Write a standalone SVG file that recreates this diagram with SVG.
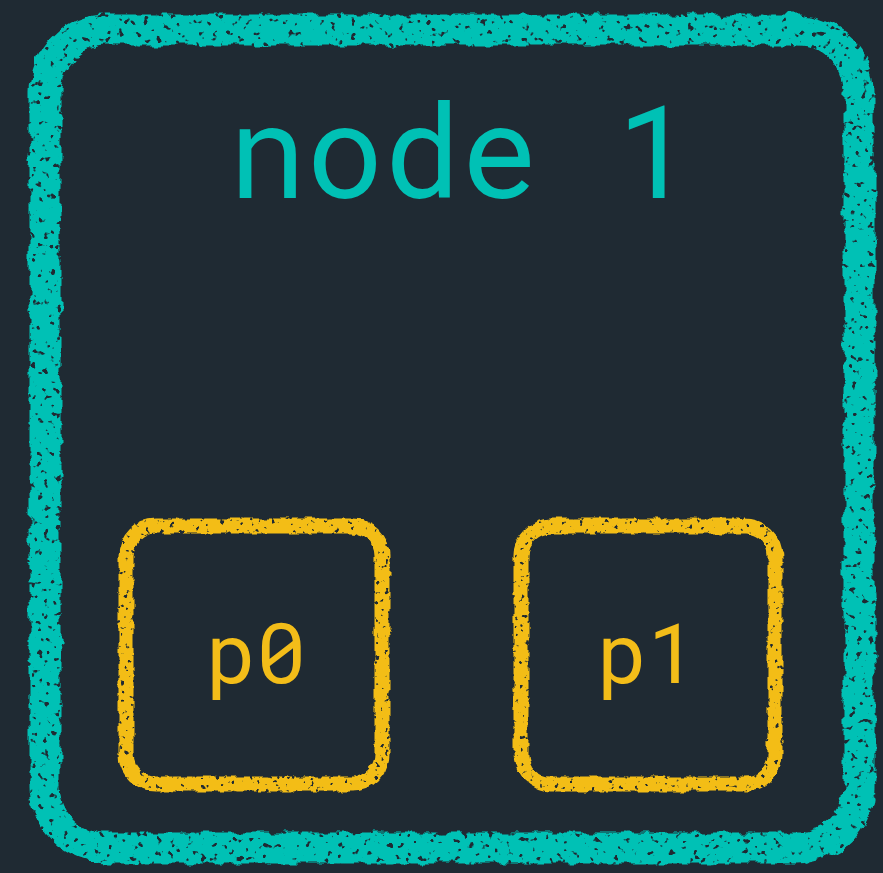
<svg xmlns="http://www.w3.org/2000/svg" width="883" height="873" viewBox="0 0 883 873">
<style>
.teal{fill:none;stroke:#00c1b5;stroke-width:31;filter:url(#rough)}
.gold{fill:none;stroke:#f3bd19;stroke-width:15;filter:url(#rough2)}
.t1{font-family:"Roboto Mono","DejaVu Sans Mono","Liberation Mono",monospace;fill:#00c1b5;font-size:129px;text-anchor:middle}
.t2{font-family:"Roboto Mono","DejaVu Sans Mono","Liberation Mono",monospace;fill:#f3bd19;font-size:84px;text-anchor:middle}
</style>
<defs>
<filter id="rough" x="-5%" y="-5%" width="110%" height="110%">
<feTurbulence type="fractalNoise" baseFrequency="0.06" numOctaves="3" seed="2" result="n"/>
<feDisplacementMap in="SourceGraphic" in2="n" scale="10" xChannelSelector="R" yChannelSelector="G" result="d"/>
<feTurbulence type="fractalNoise" baseFrequency="0.16" numOctaves="2" seed="7" result="n2"/>
<feColorMatrix in="n2" type="matrix" values="0 0 0 0 0 0 0 0 0 0 0 0 0 0 0 12 0 0 0 -3.3" result="holes"/>
<feComposite in="d" in2="holes" operator="in"/>
</filter>
<filter id="rough2" x="-5%" y="-5%" width="110%" height="110%">
<feTurbulence type="fractalNoise" baseFrequency="0.08" numOctaves="3" seed="4" result="n"/>
<feDisplacementMap in="SourceGraphic" in2="n" scale="6" xChannelSelector="R" yChannelSelector="G" result="d"/>
<feTurbulence type="fractalNoise" baseFrequency="0.2" numOctaves="2" seed="9" result="n2"/>
<feColorMatrix in="n2" type="matrix" values="0 0 0 0 0 0 0 0 0 0 0 0 0 0 0 12 0 0 0 -3.1" result="holes"/>
<feComposite in="d" in2="holes" operator="in"/>
</filter>
</defs>
<rect width="883" height="873" fill="#1f2a33"/>
<g id="node1">
<rect class="teal" x="45" y="30" width="814" height="818" rx="62"/>
<text class="t1" x="461" y="198">node 1</text>
</g>
<g id="p0">
<rect class="gold" x="126" y="526" width="256" height="258" rx="30"/>
<text class="t2" x="256" y="683">p0</text>
</g>
<g id="p1">
<rect class="gold" x="521" y="526" width="254" height="258" rx="30"/>
<text class="t2" x="647" y="683">p1</text>
</g>
<g id="connectors"/>
</svg>
